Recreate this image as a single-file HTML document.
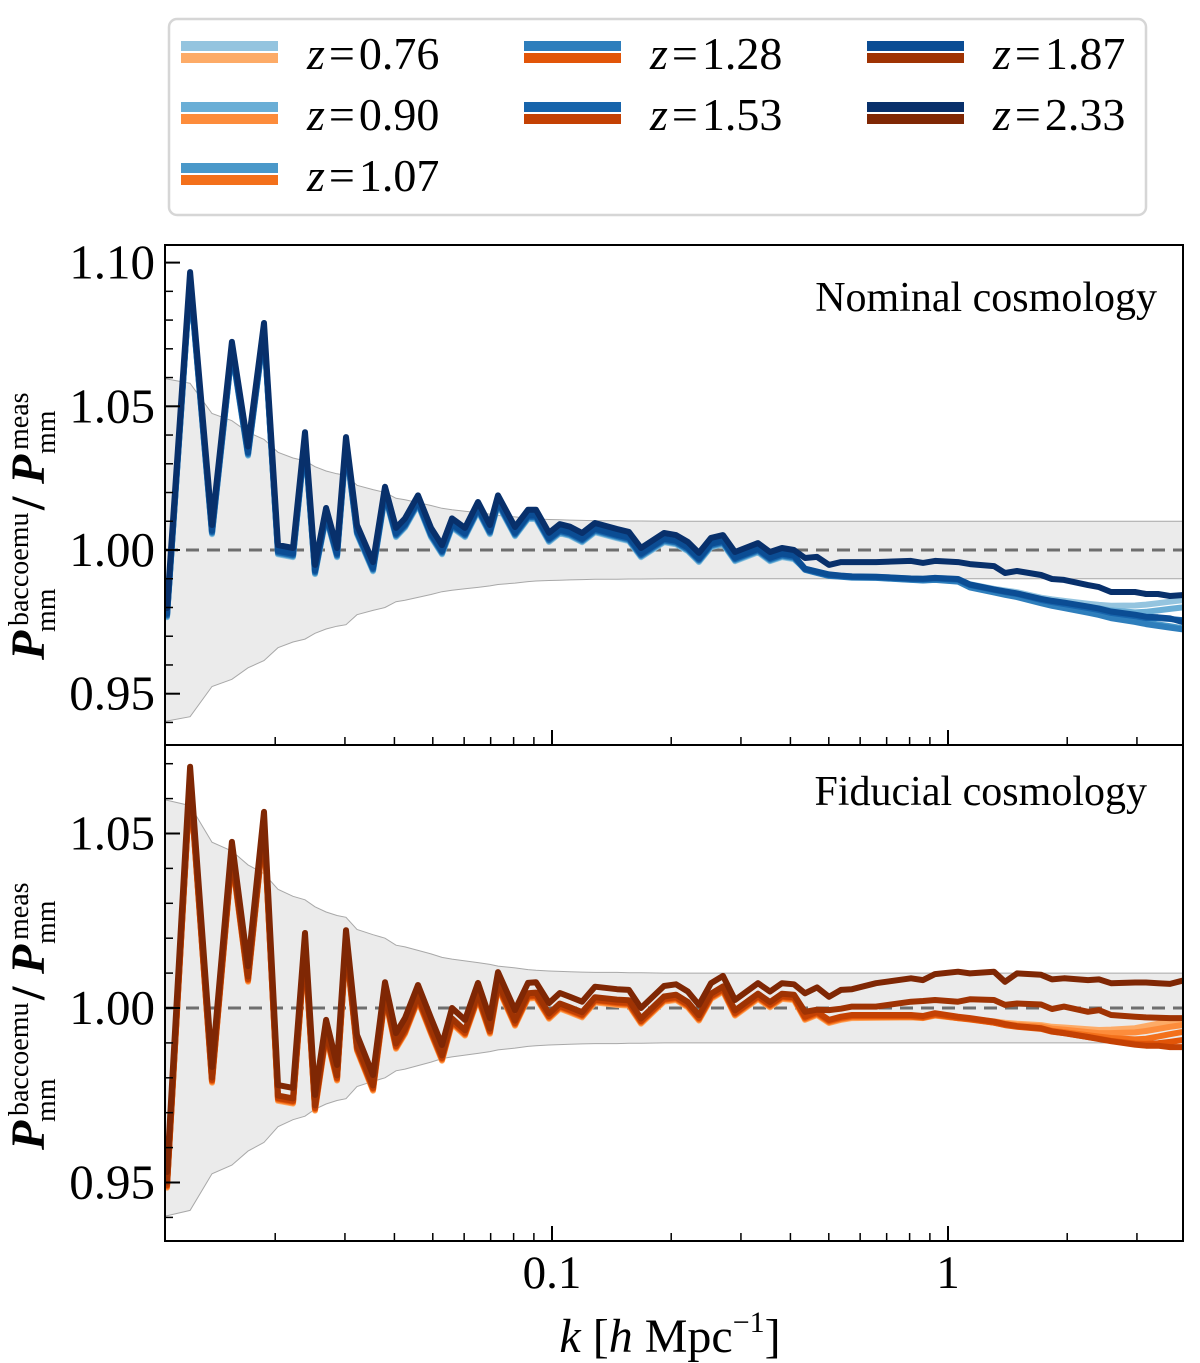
<!DOCTYPE html>
<html><head><meta charset="utf-8">
<style>
html,body{margin:0;padding:0;background:#fff;}
svg{display:block;}
svg text{font-family:"Liberation Serif","Times New Roman",serif;fill:#000;}
</style></head>
<body>
<svg id="chart" width="1200" height="1363" viewBox="0 0 1200 1363" xmlns="http://www.w3.org/2000/svg" font-family="Liberation Serif, serif">
<defs>
<clipPath id="clipTop"><rect x="165" y="245" width="1018" height="500"/></clipPath>
<clipPath id="clipBot"><rect x="165" y="745" width="1018" height="496"/></clipPath>
</defs>
<g id="legend"></g>
<g id="topPanel"></g>
<g id="botPanel"></g>
<g id="axesLabels"></g>
</svg>
<script>
const kValues = [0.01066,0.01219,0.01385,0.01555,0.01707,0.01874,0.02033,0.02218,0.02378,0.02520,0.02688,0.02865,0.03019,0.03218,0.03532,0.03787,0.04037,0.04255,0.04588,0.04948,0.05276,0.05591,0.06031,0.06503,0.06971,0.07304,0.08064,0.08700,0.09113,0.09826,0.1047,
0.1110,0.1191,0.1284,0.1459,0.1564,0.1678,0.1918,0.2056,0.2204,0.2350,0.2520,0.2703,0.2898,0.3313,0.3552,0.3808,0.4084,
0.4354,0.4668,0.5005,0.5367,0.5723,0.6579,0.8062,0.8647,0.9272,1.060,1.136,1.307,1.393,1.494,1.718,1.831,1.963,2.257,2.406,2.580,2.967,3.162,3.391,3.636,3.899];
const bandSigma = [0.0595,0.058,0.0475,0.045,0.041,0.0385,0.034,0.032,0.031,0.029,0.0275,0.0265,0.026,0.0225,0.021,0.02,0.018,0.0175,0.0165,0.0155,0.0145,0.014,0.0135,0.013,0.0125,0.012,0.0115,0.011,0.0108,0.0106,0.0105,
0.0104,0.0103,0.0102,0.0102,0.0101,0.0101,0.01,0.01,0.01,0.01,0.01,0.01,0.01,0.01,0.01,0.01,0.01,
0.01,0.01,0.01,0.01,0.01,0.01,0.01,0.01,0.01,0.01,0.01,0.01,0.01,0.01,0.01,0.01,0.01,0.01,0.01,0.01,0.01,0.01,0.01,0.01,0.01];
const zLabels = ["0.76","0.90","1.07","1.28","1.53","1.87","2.33"];
const blueColors = ["#94c4df","#6aaed6","#4a98c9","#2e7ebc","#1764ab","#0b4d94","#08306b"];
const orangeColors = ["#fdab67","#fd8c3b","#f3701b","#e25508","#c44103","#9f3303","#7f2704"];
const nominalBase = [0.9798,1.0967,1.0087,1.0724,1.036,1.079,1.0017,1.0007,1.041,0.9948,1.0146,1.0007,1.0393,1.0087,0.9958,1.022,1.0077,1.011,1.019,1.0077,1.0017,1.011,1.0077,1.0167,1.0087,1.019,1.008,1.014,1.014,1.006,1.009,
1.0081,1.0059,1.0094,1.0073,1.0063,1.0007,1.0059,1.0052,1.0028,0.9990,1.0042,1.0052,0.9993,1.0024,0.9993,1.0007,1.0];
const fiducialBase = [0.953,1.0691,0.9831,1.0476,1.012,1.0562,0.9779,0.9771,1.0215,0.9751,0.9966,0.9837,1.0223,0.9923,0.9808,1.0074,0.9928,0.9971,1.0066,0.9971,0.9894,1.0,0.9966,1.0072,0.9971,1.0103,0.9994,1.0072,1.0074,1.0014,1.0043,
1.0032,1.0018,1.0061,1.0054,1.0052,1.0,1.0063,1.0068,1.0047,1.0009,1.0071,1.0092,1.0023,1.0071,1.0047,1.0071,1.0068];
const nominalOffset = [-0.0032,-0.003,-0.0028,-0.0026,-0.0024,-0.002,0];
const fiducialOffset = [-0.0045,-0.0043,-0.0041,-0.0039,-0.0037,-0.003,0];
const nominalTail076 = [.9935,.9924,.9914,.9911,.9908,.9907,.9901,.9900,.9903,.9899,.9881,.9865,.9859,.9853,.9834,.9828,.9823,.9813,.9809,.9806,.9807,.9810,.9815,.9820,.9825];
const nominalTail090 = [.9934,.9923,.9913,.9910,.9907,.9906,.9900,.9899,.9901,.9897,.9879,.9862,.9856,.9849,.9829,.9821,.9815,.9803,.9797,.9790,.9783,.9785,.9790,.9795,.9800];
const nominalTail107 = [.9932,.9921,.9911,.9908,.9905,.9904,.9897,.9895,.9897,.9892,.9873,.9855,.9848,.9840,.9819,.9810,.9803,.9788,.9780,.9770,.9757,.9748,.9741,.9735,.9728];
const nominalTail128 = [.9931,.9920,.9910,.9907,.9904,.9903,.9896,.9894,.9896,.9890,.9870,.9852,.9844,.9836,.9815,.9806,.9798,.9782,.9774,.9763,.9750,.9742,.9736,.9730,.9724];
const nominalTail153 = [.9933,.9922,.9912,.9909,.9906,.9905,.9899,.9898,.9901,.9897,.9878,.9861,.9854,.9847,.9826,.9819,.9812,.9798,.9791,.9781,.9770,.9763,.9763,.9760,.9756];
const nominalTail187 = [.9935,.9925,.9915,.9911,.9908,.9907,.9901,.9900,.9903,.9899,.9880,.9863,.9856,.9849,.9830,.9823,.9817,.9803,.9796,.9786,.9775,.9768,.9766,.9762,.9750];
const nominalTail233 = [.9972,.9976,.9948,.9958,.9958,.9958,.9962,.9955,.9962,.9958,.9951,.9944,.9920,.9927,.9913,.9899,.9896,.9878,.9871,.9854,.9854,.9847,.9847,.9840,.9843];
const fiducialTail076 = [.9966,.9980,.9957,.9966,.9971,.9972,.9973,.9971,.9978,.9971,.9969,.9962,.9958,.9955,.9951,.9946,.9944,.9939,.9937,.9938,.9942,.9948,.9955,.9961,.9966];
const fiducialTail090 = [.9968,.9982,.9959,.9968,.9973,.9973,.9974,.9972,.9979,.9971,.9968,.9960,.9955,.9951,.9947,.9941,.9938,.9931,.9928,.9928,.9930,.9934,.9940,.9946,.9951];
const fiducialTail107 = [.9970,.9984,.9961,.9970,.9975,.9975,.9975,.9972,.9980,.9971,.9967,.9958,.9952,.9947,.9942,.9935,.9931,.9922,.9918,.9914,.9910,.9912,.9918,.9925,.9931];
const fiducialTail128 = [.9972,.9986,.9963,.9972,.9977,.9977,.9977,.9974,.9982,.9972,.9968,.9958,.9951,.9946,.9940,.9932,.9928,.9917,.9912,.9906,.9898,.9897,.9899,.9903,.9908];
const fiducialTail153 = [.9975,.9989,.9966,.9975,.9980,.9980,.9980,.9977,.9985,.9975,.9971,.9961,.9954,.9948,.9942,.9933,.9928,.9917,.9911,.9905,.9895,.9892,.9892,.9888,.9888];
const fiducialTail187 = [.9989,.9995,.9994,.9998,1.0004,1.0004,1.0018,1.0020,1.0023,1.0018,1.0025,1.0023,1.0009,1.0013,1.0010,.9997,1.0004,.9989,.9994,.9980,.9975,.9973,.9972,.9971,.9971];
const fiducialTail233 = [1.0042,1.0059,1.0032,1.0052,1.0054,1.0071,1.0085,1.0080,1.0097,1.0104,1.0099,1.0104,1.0075,1.0099,1.0095,1.0082,1.0085,1.0080,1.0082,1.0071,1.0073,1.0073,1.0071,1.0069,1.0078];
const nominalTails = [nominalTail076,nominalTail090,nominalTail107,nominalTail128,nominalTail153,nominalTail187,nominalTail233];
const fiducialTails = [fiducialTail076,fiducialTail090,fiducialTail107,fiducialTail128,fiducialTail153,fiducialTail187,fiducialTail233];
const topYTicks = ["0.95","1.00","1.05","1.10"];
const botYTicks = ["0.95","1.00","1.05"];
const xTickLabels = ["0.1","1"];

const NS = "http://www.w3.org/2000/svg";
const SERIF = '"Liberation Serif", serif';
function mk(tag, attrs, parent){ const e=document.createElementNS(NS,tag); for(const a in attrs) e.setAttribute(a,attrs[a]); if(tag==='text') e.setAttribute('font-family',SERIF); if(parent) parent.appendChild(e); return e; }
const X0=165, X1=1183;
function xs(k){ return 948 + 396*Math.log10(k); }
const panels = [
  {g:document.getElementById('topPanel'), top:245, bot:745, y1:550, per:2874, base:nominalBase, offs:nominalOffset, tails:nominalTails, colors:blueColors, clip:'clipTop', ticks:topYTicks, title:'Nominal cosmology', tx:1157, ty:311, name:'nominal'},
  {g:document.getElementById('botPanel'), top:745, bot:1241, y1:1008, per:3490, base:fiducialBase, offs:fiducialOffset, tails:fiducialTails, colors:orangeColors, clip:'clipBot', ticks:botYTicks, title:'Fiducial cosmology', tx:1147, ty:805, name:'fiducial'}
];
panels.forEach(p=>{
  const ys = v => p.y1 - (v-1)*p.per;
  const g = p.g;
  const cg = mk('g',{'clip-path':'url(#'+p.clip+')'},g);
  let up=[], lo=[];
  kValues.forEach((k,i)=>{ up.push(xs(k).toFixed(1)+','+ys(1+bandSigma[i]).toFixed(1)); lo.push(xs(k).toFixed(1)+','+ys(1-bandSigma[i]).toFixed(1)); });
  up.push(X1+','+ys(1+bandSigma[bandSigma.length-1]).toFixed(1)); lo.push(X1+','+ys(1-bandSigma[bandSigma.length-1]).toFixed(1));
  up.unshift(X0+','+ys(1+bandSigma[0]).toFixed(1)); lo.unshift(X0+','+ys(1-bandSigma[0]).toFixed(1));
  const band = mk('polygon',{points:up.concat(lo.slice().reverse()).join(' '),fill:'#ebebeb',stroke:'none'},cg);
  
  
  const bu = mk('polyline',{points:up.join(' '),fill:'none',stroke:'#a8a8a8','stroke-width':1},cg);
  
  
  const bl = mk('polyline',{points:lo.join(' '),fill:'none',stroke:'#a8a8a8','stroke-width':1},cg);
  
  
  const ref = mk('line',{x1:X0,x2:X1,y1:ys(1),y2:ys(1),stroke:'#6e6e6e','stroke-width':3,'stroke-dasharray':'13,8'},cg);
  
  
  zLabels.forEach((z,si)=>{
    const vals = p.base.map(v=>v+p.offs[si]).concat(p.tails[si]);
    const pts = vals.map((v,i)=>xs(kValues[i]).toFixed(1)+','+ys(v).toFixed(1)).join(' ');
    const ln = mk('polyline',{points:pts,fill:'none',stroke:p.colors[si],'stroke-width':6,'stroke-linejoin':'round','stroke-linecap':'round'},cg);
    
    
  });
  const fr = mk('rect',{x:X0,y:p.top,width:X1-X0,height:p.bot-p.top,fill:'none',stroke:'#000','stroke-width':2},g);
  
  
  const vTop = 1 + (p.y1-p.top)/p.per, vBot = 1 - (p.bot-p.y1)/p.per;
  for(let m=Math.ceil(vBot*100); m<=Math.floor(vTop*100); m++){
    const y = ys(m/100);
    const major = (m%5===0);
    const t = mk('line',{x1:X0,x2:X0+(major?15:8),y1:y,y2:y,stroke:'#000','stroke-width':major?2:1.5},g);
    
    
  }
  p.ticks.forEach(lab=>{
    const tl = mk('text',{x:155,y:ys(parseFloat(lab))+16,'text-anchor':'end','font-size':49},g);
    tl.textContent = lab;
    
    
  });
  [0.02,0.03,0.04,0.05,0.06,0.07,0.08,0.09,0.1,0.2,0.3,0.4,0.5,0.6,0.7,0.8,0.9,1,2,3].forEach(k=>{
    const x = xs(k); const major = (k===0.1||k===1);
    const t = mk('line',{x1:x,x2:x,y1:p.bot,y2:p.bot-(major?15:8),stroke:'#000','stroke-width':major?2:1.5},g);
    
    
  });
  const ti = mk('text',{x:p.tx,y:p.ty,'text-anchor':'end','font-size':42},g);
  ti.textContent = p.title;
  
  
  const shift = p.name==='nominal' ? 660 : 1150;
  const yl = mk('g',{transform:'translate(44,'+shift+') rotate(-90)'},g);
  
  
  const parts = [['P',0,0,48,'italic','bold'],['mm',28,11,28,'normal','normal'],['baccoemu',34,-16,28,'normal','normal'],['/',150,0,48,'normal','bold'],['P',176,0,48,'italic','bold'],['mm',206,11,28,'normal','normal'],['meas',210,-16,28,'normal','normal']];
  parts.forEach(q=>{ const t=mk('text',{x:q[1],y:q[2],'font-size':q[3],'font-style':q[4],'font-weight':q[5]},yl); t.textContent=q[0]; });
});
const ax = document.getElementById('axesLabels');
xTickLabels.forEach(lab=>{
  const t = mk('text',{x:xs(parseFloat(lab)),y:1288,'text-anchor':'middle','font-size':47},ax);
  t.textContent = lab;
  
  
});
const xt = mk('text',{x:670,y:1352,'text-anchor':'middle','font-size':48},ax);


xt.innerHTML = '<tspan font-style="italic">k</tspan> [<tspan font-style="italic">h</tspan> Mpc<tspan font-size="30" dy="-20">−1</tspan><tspan dy="20">]</tspan>';
const lg = document.getElementById('legend');
const lbox = mk('rect',{x:169,y:19,width:977,height:196,rx:8,fill:'#fff',stroke:'#d6d6d6','stroke-width':2.5},lg);


const colX=[181,524,867], rowY=[41,102,163];
const layout=[[0,0],[0,1],[0,2],[1,0],[1,1],[2,0],[2,1]];
zLabels.forEach((z,i)=>{
  const cx=colX[layout[i][0]], cy=rowY[layout[i][1]];
  const eg = mk('g',{},lg);
  
  
  mk('rect',{x:cx,y:cy,width:97,height:10,fill:blueColors[i]},eg);
  mk('rect',{x:cx,y:cy+12,width:97,height:10,fill:orangeColors[i]},eg);
  const t = mk('text',{x:cx+126,y:cy+28,'font-size':46},eg);
  t.innerHTML = '<tspan font-style="italic">z</tspan><tspan dx="4">=</tspan><tspan dx="4">'+z+'</tspan>';
});
</script>
</body></html>
